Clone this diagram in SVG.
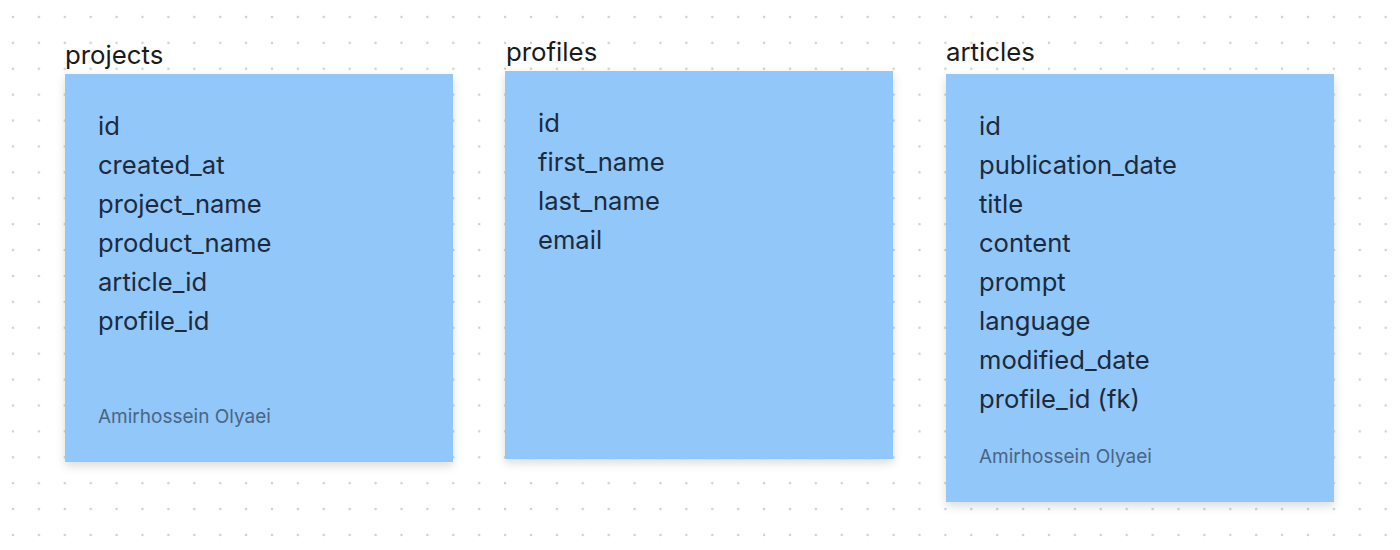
<svg xmlns="http://www.w3.org/2000/svg" width="1400" height="550" viewBox="0 0 1400 550">
<defs>
<pattern id="dots" x="0" y="4" width="25.9" height="25.9" patternUnits="userSpaceOnUse">
<circle cx="13" cy="13" r="1.3" fill="#d0d0d0"/>
</pattern>
<filter id="sh" x="-10%" y="-10%" width="120%" height="125%">
<feDropShadow dx="0" dy="4" stdDeviation="5" flood-color="#000" flood-opacity="0.14"/>
</filter>
</defs>
<style>
.card{fill:#91c7f9;filter:url(#sh)}
.title{font-family:Inter,"Liberation Sans",sans-serif;font-size:25.8px;fill:#1a1a1a}
.field{font-family:Inter,"Liberation Sans",sans-serif;font-size:25.6px;fill:#1c2a3c}
.author{font-family:Inter,"Liberation Sans",sans-serif;font-size:19px;fill:#4a6584}
</style>
<rect width="1400" height="550" fill="#ffffff"/>
<rect width="1400" height="550" fill="url(#dots)"/>
<g id="projects">
<text class="title" x="65" y="64">projects</text>
<rect class="card" x="65" y="74" width="388" height="388"/>
<text class="field" x="98" y="135">id</text>
<text class="field" x="98" y="174">created_at</text>
<text class="field" x="98" y="213">project_name</text>
<text class="field" x="98" y="252">product_name</text>
<text class="field" x="98" y="291">article_id</text>
<text class="field" x="98" y="330">profile_id</text>
<text class="author" x="98" y="423">Amirhossein Olyaei</text>
</g>
<g id="profiles">
<text class="title" x="506" y="61">profiles</text>
<rect class="card" x="505" y="71" width="388" height="388"/>
<text class="field" x="538" y="132">id</text>
<text class="field" x="538" y="171">first_name</text>
<text class="field" x="538" y="210">last_name</text>
<text class="field" x="538" y="249">email</text>
</g>
<g id="articles">
<text class="title" x="946" y="61">articles</text>
<rect class="card" x="946" y="74" width="388" height="428"/>
<text class="field" x="979" y="135">id</text>
<text class="field" x="979" y="174">publication_date</text>
<text class="field" x="979" y="213">title</text>
<text class="field" x="979" y="252">content</text>
<text class="field" x="979" y="291">prompt</text>
<text class="field" x="979" y="330">language</text>
<text class="field" x="979" y="369">modified_date</text>
<text class="field" x="979" y="408">profile_id (fk)</text>
<text class="author" x="979" y="463">Amirhossein Olyaei</text>
</g>
<g id="connectors"></g>
</svg>
